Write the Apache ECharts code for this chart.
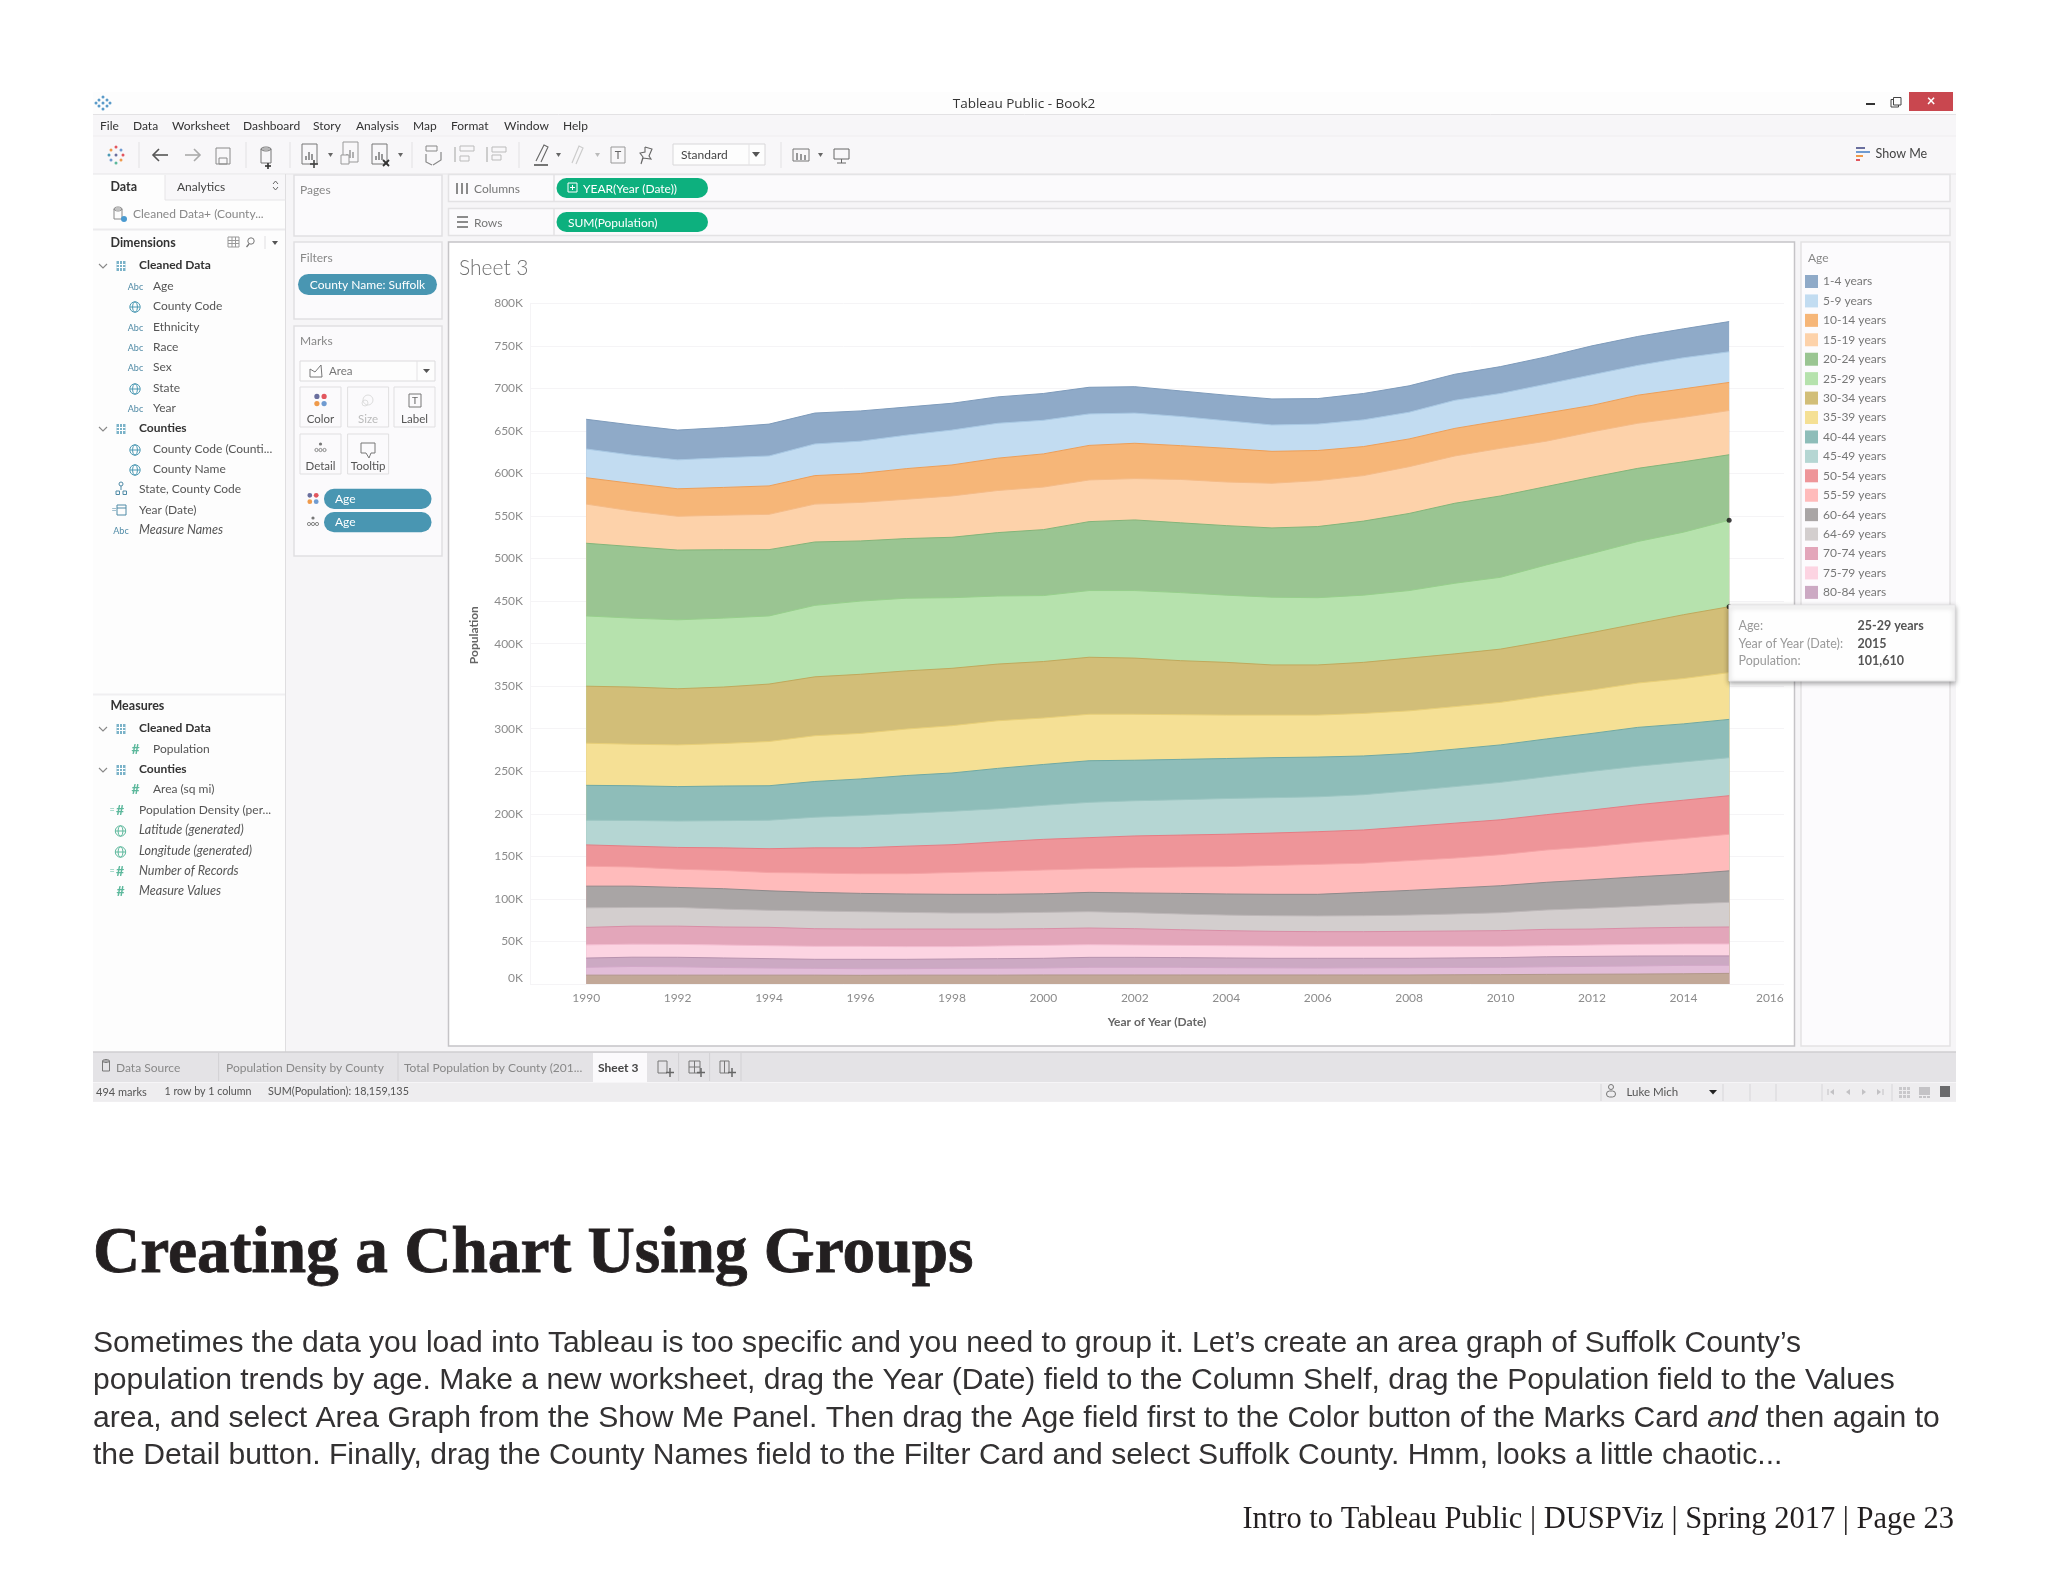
<!DOCTYPE html>
<html><head><meta charset="utf-8"><title>Creating a Chart Using Groups</title>
<style>html,body{margin:0;padding:0;background:#fff}#c{width:2048px;height:1582px}</style>
<script src="https://cdn.jsdelivr.net/npm/echarts@6/dist/echarts.min.js"></script></head>
<body><div id="c"></div><script>
const years=[1990,1991,1992,1993,1994,1995,1996,1997,1998,1999,2000,2001,2002,2003,2004,2005,2006,2007,2008,2009,2010,2011,2012,2013,2014,2015];
const yearTicks=[1990,1992,1994,1996,1998,2000,2002,2004,2006,2008,2010,2012,2014,2016];
const ages=['1-4 years','5-9 years','10-14 years','15-19 years','20-24 years','25-29 years','30-34 years','35-39 years','40-44 years','45-49 years','50-54 years','55-59 years','60-64 years','64-69 years','70-74 years','75-79 years','80-84 years','85+ years','Under 1 year'];
const pop1_4=[34900,35400,35000,35500,37400,36300,35500,33000,31500,31000,31500,31300,31000,30000,30000,30600,30000,31000,31000,30600,31600,32000,34000,34000,34000,35500];
const pop5_9=[33800,33300,34000,34900,35200,37200,38000,39300,41000,41000,39500,37000,35500,34300,32400,31000,31000,31400,31400,33000,32000,34000,36000,35000,36500,36000];
const pop10_14=[31000,32300,32300,32600,33400,33500,34000,36000,36400,38000,39000,40600,41500,39700,39600,37500,35400,34100,32600,32400,32400,33000,31000,33000,33500,33000];
const pop15_19=[46000,42000,39700,40600,41500,44500,45300,46200,48600,49500,50000,49000,48600,51000,51300,52500,54000,53500,55000,55600,56000,53400,53400,53000,52300,52000];
const pop20_24=[85400,84000,82000,80400,77900,74500,70700,70100,71000,74500,77500,81000,83000,82000,81700,81400,83600,87000,90600,94000,95600,92100,89600,86000,82700,77000];
const pop25_29=[82600,81000,81000,81000,80100,84000,86000,85400,83000,80000,77500,78400,79400,80000,79000,79600,79000,79000,79400,83000,84400,89500,93000,96500,97000,101610];
const pop30_34=[67000,67200,66000,66400,67500,69200,69500,68400,67400,66600,66400,67000,66000,63500,62000,59000,59000,60000,62000,62000,62600,64200,67500,69800,75000,77400];
const pop35_39=[49500,48800,49000,49900,52000,53800,53500,54600,55600,56000,54600,54600,54000,52500,51000,50000,49300,50000,50000,50000,50000,50800,51000,52100,53300,55000];
const pop40_44=[41000,40800,40500,40700,40500,42000,43000,44500,45000,47400,48000,48900,47600,47400,47000,47000,46700,45500,44000,44000,44000,44400,44500,45600,44700,45000];
const pop45_49=[29000,30200,31000,32000,33500,36000,38000,38500,39300,39000,40000,41500,41400,41600,42000,41600,41000,41500,42000,43000,44000,44600,45500,45300,45000,44700];
const pop50_54=[25000,24500,25500,26500,28000,29600,30400,32400,32700,34600,36000,36500,37300,37500,38000,38000,38400,39000,40000,41000,41000,41500,43100,44200,45000,45300];
const pop55_59=[23500,22500,21500,21500,21500,22700,23100,23800,25600,27000,28000,27800,29700,31000,32200,34000,35200,34300,35000,35200,36500,38000,38800,40500,42000,43000];
const pop60_64=[25500,25000,23500,24000,22900,21900,21500,21600,22000,22000,21800,22700,23200,24200,24800,25100,25400,27400,29000,30500,31700,32500,33600,34700,35000,37000];
const pop64_69=[23000,22000,22000,21000,20000,20800,20400,19600,18800,18800,19200,19200,18800,18500,18300,18400,18500,18800,19100,20000,21100,22800,24400,25500,27400,29000];
const pop70_74=[20500,21200,21400,21200,21600,20700,20300,20700,20700,19900,19600,19600,19200,18400,17700,17200,17200,17200,17600,18000,18400,19200,18800,19200,19600,20000];
const pop75_79=[15500,15300,15200,15200,15200,15300,15300,14900,14500,14900,15200,14900,14500,14400,14400,14500,14100,14100,14100,13700,13300,13000,13300,13700,14000,14000];
const pop80_84=[10900,10900,11200,11200,11000,10600,11000,11000,11000,11200,11400,11700,11700,11400,11400,11200,11400,11200,11000,11200,11400,11800,11700,11700,11100,11000];
const pop85up=[9200,10200,9800,9000,8400,8000,7800,7600,8000,8200,8200,9000,9000,9000,8600,8400,8200,8400,8600,8600,8600,8900,9300,9500,9900,9500];
const popUnder1=[10400,10400,10400,10400,10400,10400,10200,10400,10400,10400,10600,10600,10600,10600,10600,10600,10600,10600,10600,10800,11000,11300,11500,11700,12000,12500];
const bands=[pop1_4,pop5_9,pop10_14,pop15_19,pop20_24,pop25_29,pop30_34,pop35_39,pop40_44,pop45_49,pop50_54,pop55_59,pop60_64,pop64_69,pop70_74,pop75_79,pop80_84,pop85up,popUnder1];
const fills=['#8FAAC8','#C2DCF1','#F6B678','#FDD2AA','#9AC592','#B6E2AD','#D2BE78','#F5E095','#8EBDB9','#B5D6D3','#EE9599','#FFBBBB','#A9A5A5','#D3CECE','#E3A6BA','#FCD4E2','#CCA9C3','#E2BDD8','#C2A898'];
const edges=['#7e9bbb','#a9c9e4','#ee9f58','#f5bb87','#83b57a','#97cf8c','#c0a95c','#e8cf78','#6fa9a4','#9cc6c2','#e57c83','#f5a3a5','#8e8a8b','#bdb7b8','#d88ea6','#f3bcd0','#b892ae','#d2a8c8','#b2988a'];
const menuItems=['File','Data','Worksheet','Dashboard','Story','Analysis','Map','Format','Window','Help'];
const menuX=[100,133,172,243,313,356,413,451,504,563];
const dims=[['t','Cleaned Data'],['a','Age'],['g','County Code'],['a','Ethnicity'],['a','Race'],['a','Sex'],['g','State'],['a','Year'],['t','Counties'],['g','County Code (Counti...'],['g','County Name'],['h','State, County Code'],['d','Year (Date)'],['m','Measure Names']];
const meas=[['t','Cleaned Data'],['n','Population'],['t','Counties'],['n','Area (sq mi)'],['c','Population Density (per...'],['l','Latitude (generated)'],['l','Longitude (generated)'],['k','Number of Records'],['v','Measure Values']];
const paragraph=["Sometimes the data you load into Tableau is too specific and you need to group it. Let\u2019s create an area graph of Suffolk County\u2019s","population trends by age. Make a new worksheet, drag the Year (Date) field to the Column Shelf, drag the Population field to the Values","area, and select Area Graph from the Show Me Panel. Then drag the Age field first to the Color button of the Marks Card {i|and} then again to","the Detail button. Finally, drag the County Names field to the Filter Card and select Suffolk County. Hmm, looks a little chaotic..."];

const UI='Lato, "Open Sans", sans-serif';
const g=[];
function T(x,y,text,o={}){g.push({type:'text',x,y,z:o.z||10,silent:true,style:{text,fill:o.c||'#666',fontFamily:o.f||UI,fontSize:o.s||12,fontWeight:o.w||'normal',fontStyle:o.i?'italic':'normal',align:o.a||'left',verticalAlign:'middle',rich:o.rich,stroke:o.ts||null,lineWidth:o.tw||0}});}
function R(x,y,w,h,fill,o={}){g.push({type:'rect',z:o.z===undefined?-5:o.z,silent:true,shape:{x,y,width:w,height:h,r:o.r||0},style:{fill,stroke:o.st||null,lineWidth:o.lw||1,shadowBlur:o.sb||0,shadowColor:o.sc||'transparent',shadowOffsetY:o.so||0}});}
function L(x1,y1,x2,y2,c,lw){g.push({type:'line',z:10,silent:true,shape:{x1,y1,x2,y2},style:{stroke:c||'#ddd',lineWidth:lw||1}});}
function P(pts,c,lw,fill){g.push({type:fill?'polygon':'polyline',z:10,silent:true,shape:{points:pts},style:{stroke:fill?null:(c||'#777'),lineWidth:lw||1.2,fill:fill||'none'}});}
function C(x,y,r,fill,st){g.push({type:'circle',z:10,silent:true,shape:{cx:x,cy:y,r},style:{fill:fill||'none',stroke:st||null,lineWidth:1}});}
function dots4(x,y,gap,r){C(x-gap,y-gap,r,'#6a6f9e');C(x+gap,y-gap,r,'#e2565e');C(x-gap,y+gap,r,'#ef9a4b');C(x+gap,y+gap,r,'#6f9bd1');}
function detailIcon(x,y){C(x,y-4,1.6,'#777');C(x-4,y+2,1.6,null,'#888');C(x,y+2,1.6,null,'#888');C(x+4,y+2,1.6,null,'#888');}
function globe(x,y,c){C(x,y,5.2,null,c||'#4d9ab4');L(x-5,y,x+5,y,c||'#4d9ab4');g.push({type:'ellipse',z:10,silent:true,shape:{cx:x,cy:y,rx:2.4,ry:5.2},style:{fill:'none',stroke:c||'#4d9ab4',lineWidth:1}});}
function tableIcon(x,y){R(x-4.5,y-5,9,10,'#7ab2c8',{z:10});L(x-4.5,y-1.5,x+4.5,y-1.5,'#fff');L(x-4.5,y+1.5,x+4.5,y+1.5,'#fff');L(x-1.5,y-5,x-1.5,y+5,'#fff');L(x+1.5,y-5,x+1.5,y+5,'#fff');}
function chevron(x,y){P([[x-4,y-2],[x,y+2],[x+4,y-2]],'#888',1.1);}
function hash(x,y,c,calc){T(x,y,'#',{c:c||'#5cb89c',s:14,a:'center',w:'bold'});if(calc)T(x-8,y,'=',{c:c||'#5cb89c',s:9,a:'center'});}
function abc(x,y){T(x,y+1,'Abc',{c:'#4f8aa6',s:9,a:'center'});}
function barsIcon(x,y,c){R(x-8,y-11,15,20,'none',{z:10,st:c});[[-4,4],[-1,8],[2,6]].forEach(b=>L(x+b[0],y+5,x+b[0],y+5-b[1],c,1.5));}

/* page + window frames */
R(93,92,1863,1010,'#f6f5f7');
R(93,92,1863,23,'#fdfdfd');L(93,114.5,1956,114.5,'#e3e2e4');
R(93,115,1863,21,'#f7f6f8');L(93,136,1956,136,'#efeef0');
R(93,136,1863,38,'#f8f7f9');L(93,174,1956,174,'#e6e5e7');
/* title bar */
[[103,97],[99,100],[107,100],[103,103],[96,103],[110,103],[99,106],[107,106],[103,109]].forEach(d=>C(d[0],d[1],1.5,'#5b9bc9'));
T(1024,104,'Tableau Public - Book2',{c:'#333',s:13.5,f:'"Open Sans", sans-serif',a:'center'});
L(1866,104,1875,104,'#333',2);
R(1891,99.5,7.5,7.5,'none',{z:10,st:'#444'});R(1893.5,97.5,7.5,7.5,'#fdfdfd',{z:10,st:'#444'});
R(1909,92,44,19,'#c9474f',{z:9});T(1931,101,'\u00d7',{c:'#fff',s:15,a:'center',w:'bold'});
menuItems.forEach((m,i)=>T(menuX[i],126,m,{c:'#333',s:12}));
/* toolbar */
[139,246,290,412,519,781].forEach(x=>L(x,142,x,168,'#e2e1e3'));
[[116,147,'#e2565e'],[121,150,'#6f9bd1'],[111,150,'#ef9a4b'],[116,155,'#6a6f9e'],[109,155,'#4d9ab4'],[123,155,'#e2565e'],[111,160,'#6f9bd1'],[121,160,'#ef9a4b'],[116,163,'#5cb89c']].forEach(d=>C(d[0],d[1],1.5,d[2]));
P([[168,155],[153,155]],'#555',1.6);P([[159,149],[153,155],[159,161]],'#555',1.6);
P([[185,155],[200,155]],'#aaa',1.6);P([[194,149],[200,155],[194,161]],'#aaa',1.6);
R(216,148,14,16,'none',{z:10,st:'#8a8a8a'});R(219,158,8,6,'none',{z:10,st:'#8a8a8a'});
g.push({type:'ellipse',z:10,silent:true,shape:{cx:266,cy:149,rx:5,ry:2},style:{fill:'none',stroke:'#777'}});R(261,149,10,14,'none',{z:10,st:'#777'});L(268,163,268,169,'#333',1.6);L(265,166,271,166,'#333',1.6);
barsIcon(310,155,'#777');L(314,160,314,168,'#444',1.6);L(310,164,318,164,'#444',1.6);
P([[328,153],[333,153],[330.5,157]],null,1,'#666');
barsIcon(351,153,'#999');R(341,155,8,9,'#f8f7f9',{z:10,st:'#999'});
barsIcon(380,155,'#777');L(383,160,389,166,'#333',1.8);L(389,160,383,166,'#333',1.8);
P([[398,153],[403,153],[400.5,157]],null,1,'#666');
R(426,146,11,5,'none',{z:10,st:'#888'});P([[441,152],[441,160],[433,165]],'#888',1.2);P([[426,154],[426,162],[432,165]],'#888',1.2);
[464,496].forEach((x,i)=>{L(x-9,147,x-9,162,'#bbb',1.4);R(x-4,147+(i?0:9),i?14:9,5,'none',{z:10,st:'#bbb'});R(x-4,155-(i?0:9),i?9:14,5,'none',{z:10,st:'#bbb'});});
P([[536,161],[544,145],[548,147],[541,162]],'#666',1.1);L(534,165,548,165,'#666',1.8);
P([[556,153],[561,153],[558.5,157]],null,1,'#666');
P([[572,163],[579,146],[583,148],[576,164]],'#ccc',1.2);
P([[595,153],[600,153],[597.5,157]],null,1,'#bbb');
R(611,147,14,16,'none',{z:10,st:'#999'});T(618,155,'T',{c:'#666',s:11,a:'center'});
P([[645,147],[652,149],[649,156],[651,159],[643,158],[641,164],[643,157],[640,153],[645,152],[645,147]],'#666',1.1);
R(673,144,92,21,'#fdfdfd',{z:-4,st:'#d8d7d9'});L(749,144,749,165,'#e4e3e5');T(681,155,'Standard',{c:'#444',s:12});
P([[752,152],[760,152],[756,157]],null,1,'#555');
R(793,149,16,12,'none',{z:10,st:'#777'});[797,801,805].forEach((x,i)=>L(x,160,x,153+i,'#777',1.5));P([[818,153],[823,153],[820.5,157]],null,1,'#666');
R(834,149,15,10,'none',{z:10,st:'#666'});L(841.5,159,841.5,163,'#666');L(837,163,846,163,'#666');
L(1856,148,1865,148,'#6a6f9e',2);L(1856,152,1870,152,'#6f9bd1',2);L(1856,156,1863,156,'#ef9a4b',2);L(1856,160,1860,160,'#e2565e',2);
T(1875.5,154,'Show Me',{c:'#444',s:12.5});

/* left data pane */
R(93,174,192.5,878,'#fdfdfd');L(285.5,174,285.5,1052,'#dfdee0');
R(165,175,120.5,25,'#f8f7f9');L(165,175,165,200,'#e6e5e7');L(165,200,285.5,200,'#e6e5e7');
T(110.5,187,'Data',{c:'#333',s:12.5,w:'bold'});T(177,187,'Analytics',{c:'#444',s:12});
P([[273,184],[275.5,181],[278,184]],'#666',1);P([[273,187],[275.5,190],[278,187]],'#666',1);
g.push({type:'ellipse',z:10,silent:true,shape:{cx:118,cy:209,rx:4,ry:2},style:{fill:'none',stroke:'#888'}});R(114,209,8,10,'none',{z:10,st:'#888'});C(124,219,3,'#4a9ad0');
T(133,214,'Cleaned Data+ (County...',{c:'#888',s:12});
L(93,229.5,285,229.5,'#ecebed',2);
T(110.5,243,'Dimensions',{c:'#333',s:12.5,w:'bold'});
R(228,237,11,10,'none',{z:10,st:'#999'});L(228,240.5,239,240.5,'#999');L(228,243.5,239,243.5,'#999');L(232,237,232,247,'#999');L(235.5,237,235.5,247,'#999');
C(251,241,3.2,null,'#777');L(249,244,246.5,247,'#777',1.3);L(265,236,265,249,'#e0dfe1');P([[272,241],[278,241],[275,245]],null,1,'#555');
const rowY=[265,286,306,327,347,367,388,408,428,449,469,489,510,530];
dims.forEach((d,i)=>{const y=rowY[i],k=d[0];
 if(k==='t'){chevron(103,y+1);tableIcon(121,y+1);T(139,y,d[1],{c:'#333',s:12,w:'bold'});}
 else if(k==='a'){abc(135.5,y);T(153,y,d[1],{c:'#555',s:12});}
 else if(k==='g'){globe(135,y+1);T(153,y,d[1],{c:'#555',s:12});}
 else if(k==='h'){C(121,y-5,2,null,'#4f8aa6');L(121,y-3,121,y+1,'#4f8aa6');R(116,y+2,3.5,3.5,'none',{z:10,st:'#4f8aa6'});R(123,y+2,3.5,3.5,'none',{z:10,st:'#4f8aa6'});T(139,y,d[1],{c:'#555',s:12});}
 else if(k==='d'){R(117,y-5,9,10,'none',{z:10,st:'#4f8aa6'});L(117,y-2,126,y-2,'#4f8aa6');T(114,y,'=',{c:'#4f8aa6',s:9,a:'center'});T(139,y,d[1],{c:'#555',s:12});}
 else {T(121,y+1,'Abc',{c:'#4f8aa6',s:9,a:'center'});T(139,y,d[1],{c:'#555',s:12.6,i:true});}
});
L(93,694.5,285,694.5,'#f0eff1',2);
T(110.5,706,'Measures',{c:'#333',s:12.5,w:'bold'});
const measY=[728,749,769,789,810,830,851,871,891];
meas.forEach((d,i)=>{const y=measY[i],k=d[0];
 if(k==='t'){chevron(103,y+1);tableIcon(121,y+1);T(139,y,d[1],{c:'#333',s:12,w:'bold'});}
 else if(k==='n'){hash(135.5,y);T(153,y,d[1],{c:'#555',s:12});}
 else if(k==='c'){hash(120,y,null,true);T(139,y,d[1],{c:'#555',s:12});}
 else if(k==='l'){globe(120.5,y+1,'#5cb89c');T(139,y,d[1],{c:'#555',s:12.6,i:true});}
 else if(k==='k'){hash(120,y,null,true);T(139,y,d[1],{c:'#555',s:12.6,i:true});}
 else {hash(120.5,y);T(139,y,d[1],{c:'#555',s:12.6,i:true});}
});

/* cards */
const cardO={st:'#e1e0e2',lw:1.5};
R(294,175,148,61,'#fbfafc',cardO);T(300,190,'Pages',{c:'#888',s:12});
R(294,242,148,77,'#fbfafc',cardO);T(300,258,'Filters',{c:'#888',s:12});
R(298,274,139,21,'#4996b2',{z:-4,r:10.5});T(367.5,285,'County Name: Suffolk',{c:'#fff',s:12,a:'center'});
R(294,326,148,230,'#fbfafc',cardO);T(300,341,'Marks',{c:'#888',s:12});
R(300,361,135,20,'#fdfdfd',{z:-4,st:'#dcdbdd'});L(417,361,417,381,'#e4e3e5');
P([[310,377],[310,369],[315,372],[321,365],[322,377],[310,377]],'#777',1);T(329,371.5,'Area',{c:'#777',s:11.5});P([[423,369],[430,369],[426.5,373]],null,1,'#555');
[[300,387,'Color','#555'],[347.6,387,'Size','#bbb'],[394,387,'Label','#555'],[300,434,'Detail','#555'],[347.6,434,'Tooltip','#555']].forEach(b=>{R(b[0],b[1],41,40,'#fbfafc',{z:-4,st:'#e0dfe1'});T(b[0]+20.5,b[1]+32,b[2],{c:b[3],s:11.5,a:'center'});});
dots4(320.5,400,3.6,2.6);C(368,400,5,null,'#ddd');C(365,403,3,null,'#ddd');
R(409,394,12,13,'none',{z:10,st:'#777'});T(415,400.5,'T',{c:'#666',s:10,a:'center'});
detailIcon(320.5,448);
g.push({type:'polygon',z:10,silent:true,shape:{points:[[361,443],[375,443],[375,453],[371,453],[369,458],[366,453],[361,453]]},style:{fill:'none',stroke:'#777',lineWidth:1}});
dots4(313,498.5,3.2,2.4);detailIcon(313,522);
[488.7,512].forEach(y=>{R(324,y,107.5,20.3,'#4996b2',{z:-4,r:10});T(335,y+10.5,'Age',{c:'#fff',s:12});});

/* shelves */
[[174.5,'Columns',583,'YEAR(Year (Date))'],[208.5,'Rows',568,'SUM(Population)']].forEach(s=>{
 R(448.5,s[0],1501.5,27,'#fbfafc',{st:'#e3e2e4',lw:1.5});L(554,s[0],554,s[0]+27,'#e3e2e4',1.5);
 T(474,s[0]+14.5,s[1],{c:'#777',s:12});
 R(556.5,s[0]+3.5,151.5,20,'#0db07e',{z:-4,r:10});T(s[2],s[0]+14.5,s[3],{c:'#fff',s:12});
});
[458,463,468].forEach(x=>L(x-1,183,x-1,194,'#666',1.5));
[217,222,227].forEach(y=>{L(457,y,468,y,'#666',1.5);});
R(568,183,9,9,'none',{z:10,st:'#fff'});L(570,187.5,575,187.5,'#fff');L(572.5,185,572.5,190,'#fff');

/* chart and legend panels */
R(448.5,242,1346,804,'#fff',{st:'#c5c4c7',lw:1.5});
R(1801,242,149,804,'#fcfbfd',{st:'#e3e2e4',lw:1.5});
T(1808,258,'Age',{c:'#888',s:12});
T(459,268,'Sheet 3',{c:'#707070',s:21,w:300});

/* tab and status bars */
R(93,1052,1863,30,'#e4e3e6');L(93,1052,1956,1052,'#cfced1',1.5);
R(93,1083,1863,18.7,'#eeedef');
R(593,1053,54,29,'#fbfafc',{z:-4});
[218.6,398,678.6,709.6,741].forEach(x=>L(x,1053,x,1081,'#d2d1d4'));
g.push({type:'ellipse',z:10,silent:true,shape:{cx:106,cy:1061,rx:3.5,ry:1.5},style:{fill:'none',stroke:'#777'}});R(102.5,1061,7,10,'none',{z:10,st:'#777'});
T(116,1068,'Data Source',{c:'#888',s:12});T(226,1068,'Population Density by County',{c:'#888',s:12});T(404,1068,'Total Population by County (201...',{c:'#888',s:12});T(598,1068,'Sheet 3',{c:'#444',s:12,w:'bold'});
R(658,1061,9,12,'none',{z:10,st:'#777'});L(670,1068,670,1077,'#666',1.5);L(666,1072.5,674,1072.5,'#666',1.5);
R(689,1061,11,12,'none',{z:10,st:'#777'});L(689,1067,700,1067,'#777');L(694.5,1061,694.5,1073,'#777');L(701,1068,701,1077,'#666',1.5);L(697,1072.5,705,1072.5,'#666',1.5);
P([[720,1061],[729,1061],[729,1073],[720,1073],[720,1061]],'#777',1);L(724.5,1061,724.5,1073,'#777');L(732,1068,732,1077,'#666',1.5);L(728,1072.5,736,1072.5,'#666',1.5);
T(96,1092,'494 marks',{c:'#555',s:11});T(164.5,1092,'1 row by 1 column',{c:'#555',s:10.7});T(268,1092,'SUM(Population): 18,159,135',{c:'#555',s:10.8});
[1601,1723,1750,1776,1822,1892].forEach(x=>L(x,1084,x,1101,'#d7d6d9'));
C(1611,1087,2.5,null,'#777');R(1606.5,1091,9,6,'none',{z:10,st:'#777',r:3});
T(1626.5,1092.5,'Luke Mich',{c:'#555',s:11.5});P([[1709,1090],[1717,1090],[1713,1094.5]],null,1,'#222');
[[1832,'l'],[1848,'p'],[1864,'n'],[1879,'r']].forEach(b=>{const x=b[0],dir=(b[1]==='l'||b[1]==='p')?-1:1;P([[x-dir*2,1089],[x+dir*2,1092],[x-dir*2,1095]],null,1,'#c2c1c4');if(b[1]==='l')L(x-4,1089,x-4,1095,'#c2c1c4');if(b[1]==='r')L(x+4,1089,x+4,1095,'#c2c1c4');});
for(let i=0;i<3;i++)for(let j=0;j<3;j++)R(1899+i*4,1087+j*4,3,3,'#c9c8cb',{z:10});
R(1919,1087,11,8,'#c4c3c6',{z:10});[1919,1923,1927].forEach(x=>R(x,1096,3,2,'#c4c3c6',{z:10}));
R(1940,1086,10,11,'#6a6a6c',{z:10});

/* hover tooltip */
R(1729,605,226,76,'#fefefe',{z:50,st:'#e6e5e7',sb:5,sc:'rgba(0,0,0,0.35)',so:2});
[['Age:','25-29 years',626],['Year of Year (Date):','2015',643.5],['Population:','101,610',660.7]].forEach(r=>{T(1738.5,r[2],r[0],{z:51,c:'#9a9a9a',s:12.5});T(1857.5,r[2],r[1],{z:51,c:'#555',s:12.5,w:'bold'});});

/* page text */
T(93,1255,'Creating a Chart Using Groups',{c:'#231f20',s:65.4,f:'"Liberation Serif", serif',w:'bold',ts:'#231f20',tw:0.8});
paragraph.forEach((t,i)=>T(93,[1344,1381,1418.5,1456][i],t,{c:'#333132',s:30.1,f:'"Liberation Sans", sans-serif',rich:{i:{fontStyle:'italic',fontSize:30.1,fontFamily:'"Liberation Sans", sans-serif',color:'#333132'}}}));
T(1954,1520,'Intro to Tableau Public | DUSPViz | Spring 2017 | Page 23',{c:'#231f20',s:30.5,f:'"Liberation Serif", serif',a:'right'});

/* each band's top edge is the running total of the bands under it; tall bands are painted first */
const sumFrom=(k,j)=>bands.slice(k).reduce((s,b)=>s+b[j],0);
const series=ages.map((name,i)=>({name,type:'line',symbol:'none',silent:true,z:2,
  data:years.map((y,j)=>[y,sumFrom(i,j)]),
  itemStyle:{color:fills[i]},lineStyle:{color:edges[i],width:1},areaStyle:{color:fills[i],opacity:1}}));
const last=years.length-1;
series.push({name:'Selected mark',type:'scatter',symbolSize:5,silent:true,z:6,itemStyle:{color:'#111'},
  data:[[years[last],sumFrom(5,last)],[years[last],sumFrom(6,last)]]});

const tickStyle={color:'#8c8c8c',fontFamily:UI,fontSize:12};
const chart=echarts.init(document.getElementById('c'),null,{renderer:'canvas',width:2048,height:1582});
chart.setOption({
 animation:false,backgroundColor:'#fff',
 textStyle:{fontFamily:UI},
 grid:{left:530,top:303.3,width:1254,height:680.7,containLabel:false},
 legend:{orient:'vertical',left:1805,top:275,padding:0,icon:'rect',itemWidth:13,itemHeight:13,itemGap:6.43,selectedMode:false,
   data:ages.slice(0,17),textStyle:{fontFamily:UI,fontSize:12,color:'#777'},itemStyle:{borderWidth:0},lineStyle:{width:0}},
 xAxis:{type:'value',min:1988.771,max:2016.2,name:'Year of Year (Date)',nameLocation:'middle',nameGap:32,
   nameTextStyle:{fontFamily:UI,fontSize:12,fontWeight:'bold',color:'#666'},
   axisLine:{show:false},axisTick:{show:false},splitLine:{show:false},
   axisLabel:Object.assign({customValues:yearTicks,margin:8,hideOverlap:false,
     formatter:v=>v===2016?'{e|2016}':String(v),
     rich:{e:Object.assign({padding:[0,10,0,0]},tickStyle)}},tickStyle)},
 yAxis:{type:'value',min:0,max:800000,interval:50000,name:'Population',nameLocation:'middle',nameGap:50,
   nameTextStyle:{fontFamily:UI,fontSize:12,fontWeight:'bold',color:'#666',padding:[0,0,0,17]},
   axisLine:{show:true,lineStyle:{color:'#f5f4f6'}},axisTick:{show:false},splitLine:{show:true,lineStyle:{color:'#f5f4f6',width:1}},
   axisLabel:Object.assign({margin:7,verticalAlignMinLabel:'bottom',formatter:v=>(v/1000)+'K'},tickStyle)},
 series,
 graphic:{elements:g}
});
</script></body></html>
